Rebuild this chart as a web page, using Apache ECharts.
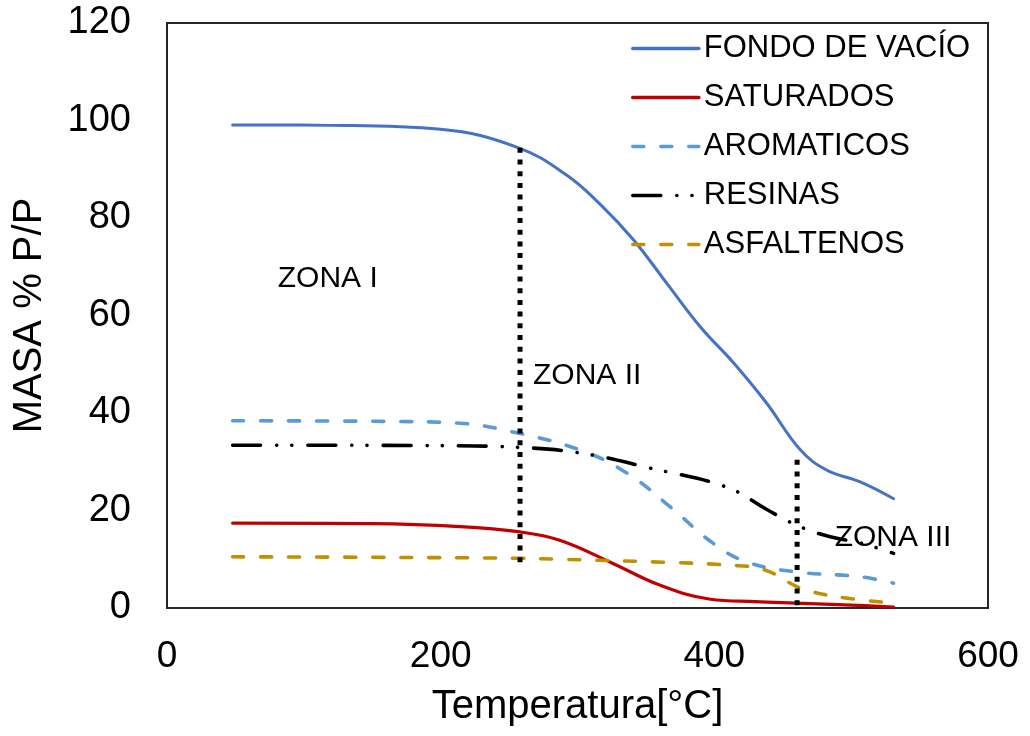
<!DOCTYPE html>
<html>
<head>
<meta charset="utf-8">
<script src="https://cdn.jsdelivr.net/npm/echarts@6/dist/echarts.min.js"></script>
<style>html,body{margin:0;padding:0;background:#fff;}#c{width:1030px;height:736px;}</style>
</head>
<body>
<div id="c"></div>
<script>
// ---- data (Temperatura °C, MASA % P/P) ----
var seriesNames = ['FONDO DE VACÍO', 'SATURADOS', 'AROMATICOS', 'RESINAS', 'ASFALTENOS'];
var fondo = [[48,99.1],[120,99.0],[200,98.2],[257,94.4],[292,88.8],[317,82.7],[341,75.5],[365,66.7],[390,57.6],[414,50.3],[438,42.1],[463,32.4],[482,28.3],[507,25.8],[531,22.4]];
var saturados = [[48,17.4],[150,17.3],[214,16.7],[258,15.6],[287,13.9],[324,9.4],[360,4.7],[397,1.8],[430,1.3],[460,1.0],[500,0.6],[531,0.2]];
var aromaticos = [[48,38.4],[150,38.3],[214,37.9],[253,36.1],[302,32.4],[336,27.7],[368,20.7],[399,13.3],[424,9.4],[460,7.4],[507,6.4],[531,5.1]];
var resinas = [[48,33.4],[200,33.3],[253,33.0],[302,31.8],[353,28.7],[409,24.8],[439,20.1],[460,17.0],[482,14.8],[507,13.3],[531,11.2]];
var asfaltenos = [[48,10.5],[150,10.4],[258,10.2],[287,10.0],[373,9.3],[409,8.8],[436,7.9],[463,4.1],[490,2.3],[531,1.0]];
var zonaLine1 = [[258,94.4],[258,8.2]];
var zonaLine2 = [[460.5,30.4],[460.5,-0.8]];
var zonaLabels = [[81,67.5,'ZONA I'],[267.5,47.6,'ZONA II'],[488,14.4,'ZONA III']];
var xTicks = {min:0, max:600, interval:200};
var yTicks = {min:0, max:120, interval:20};

var FONT = 'Liberation Sans, Arial, sans-serif';
var chart = echarts.init(document.getElementById('c'), null, {renderer:'canvas'});

function curve(name, data, color, width, dash) {
  return {
    name: name, type: 'line', data: data, smooth: 0.4,
    symbol: 'none', z: 3,
    lineStyle: {color: color, width: width, type: dash, cap: 'round'},
    itemStyle: {color: color}
  };
}
function zoneLine(data) {
  return {
    type: 'line', data: data, symbol: 'none', clip: false, z: 4, silent: true,
    lineStyle: {color: '#000', width: 5, type: [5, 6.7], cap: 'butt'}
  };
}

var option = {
  animation: false,
  backgroundColor: '#fff',
  grid: {left: 167, right: 42, top: 23, bottom: 128, show: true, borderColor: '#262626', borderWidth: 2, backgroundColor: 'transparent'},
  legend: {
    data: seriesNames, orient: 'vertical', left: 626, top: 28,
    itemWidth: 66, itemHeight: 10, itemGap: 18,
    textStyle: {fontFamily: FONT, fontSize: 31, color: '#000', lineHeight: 31, padding: [0,0,0,0]},
    itemStyle: {opacity: 0},
    lineStyle: {width: 3.6}
  },
  xAxis: {
    type: 'value', min: xTicks.min, max: xTicks.max, interval: xTicks.interval,
    name: 'Temperatura[°C]', nameLocation: 'middle', nameGap: 79,
    nameTextStyle: {fontFamily: FONT, fontSize: 40, color: '#000'},
    axisLine: {show: false}, axisTick: {show: false}, splitLine: {show: false},
    axisLabel: {fontFamily: FONT, fontSize: 37, color: '#000', margin: 30}
  },
  yAxis: {
    type: 'value', min: yTicks.min, max: yTicks.max, interval: yTicks.interval,
    name: 'MASA % P/P', nameLocation: 'middle', nameGap: 117,
    nameTextStyle: {fontFamily: FONT, fontSize: 40, color: '#000'},
    axisLine: {show: false}, axisTick: {show: false}, splitLine: {show: false},
    axisLabel: {fontFamily: FONT, fontSize: 38, color: '#000', margin: 36}
  },
  series: [
    curve(seriesNames[0], fondo, '#4472C4', 3, 'solid'),
    curve(seriesNames[1], saturados, '#C00000', 3.2, 'solid'),
    curve(seriesNames[2], aromaticos, '#5B9BD5', 3.6, [11, 17]),
    curve(seriesNames[3], resinas, '#000000', 3.6, [28, 16, 0.1, 15, 0.1, 16]),
    curve(seriesNames[4], asfaltenos, '#BF9000', 3.6, [11, 17]),
    zoneLine(zonaLine1),
    zoneLine(zonaLine2),
    {
      type: 'scatter', data: zonaLabels, symbol: 'circle', symbolSize: 0.1, itemStyle: {color: '#000', opacity: 1}, z: 5, silent: true,
      label: {show: true, formatter: function(p){return p.data[2];}, position: [0, 0], align: 'left', verticalAlign: 'middle',
        fontFamily: FONT, fontSize: 30, color: '#000', opacity: 1, textBorderWidth: 0, textBorderColor: 'transparent'}
    }
  ]
};
chart.setOption(option);
</script>
</body>
</html>
